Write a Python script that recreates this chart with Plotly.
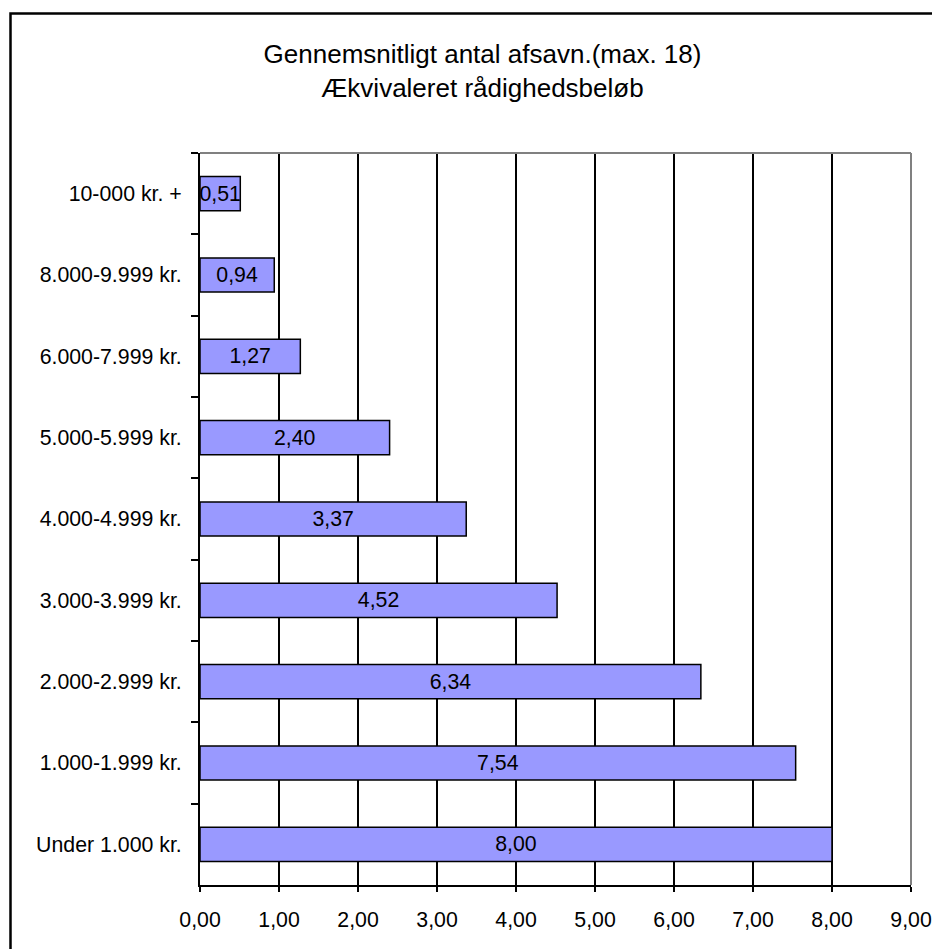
import plotly.graph_objects as go

categories = ["10-000 kr. +", "8.000-9.999 kr.", "6.000-7.999 kr.", "5.000-5.999 kr.",
              "4.000-4.999 kr.", "3.000-3.999 kr.", "2.000-2.999 kr.", "1.000-1.999 kr.",
              "Under 1.000 kr."]
values = [0.51, 0.94, 1.27, 2.40, 3.37, 4.52, 6.34, 7.54, 8.00]
x_ticks = [0, 1, 2, 3, 4, 5, 6, 7, 8, 9]

OFF = 8  # page body margin
W, H = 940 - OFF, 949 - OFF
ML, MT = 200 - OFF, 153 - OFF
PR, PB = 911 - OFF, 885 - OFF
MR, MB = W - PR, H - PB
pw, ph = PR - ML, PB - MT

def px_x(sx):
    return (sx - OFF - ML) / pw

def px_y(sy):
    return (PB - (sy - OFF)) / ph

FONT = "Liberation Sans, Arial, sans-serif"
FS = 21.3

fig = go.Figure()
fig.add_trace(go.Bar(
    y=categories, x=values, orientation="h",
    marker=dict(color="#9999FF", line=dict(color="black", width=1.5)),
    texttemplate="%{x:.2f}", textposition="inside", insidetextanchor="middle",
    constraintext="none", textangle=0,
    textfont=dict(family=FONT, size=FS, color="black"),
    hoverinfo="skip",
))

fig.update_layout(
    width=W, height=H,
    margin=dict(l=ML, r=MR, t=MT, b=MB, autoexpand=False),
    paper_bgcolor="white", plot_bgcolor="white",
    separators=",.",
    bargap=0.58,
    showlegend=False,
    font=dict(family=FONT, color="black"),
    title=dict(
        text="Gennemsnitligt antal afsavn.(max. 18)<br>Ækvivaleret rådighedsbeløb",
        x=(482.5 - OFF) / W, xanchor="center", xref="container",
        y=1 - 55 / H, yanchor="top", yref="container",
        font=dict(family=FONT, size=26, color="black"),
    ),
    xaxis=dict(
        range=[0, 9], tickvals=x_ticks, tickformat=".2f",
        showgrid=True, gridcolor="black", gridwidth=2,
        showline=True, linecolor="black", linewidth=2,
        ticks="outside", ticklen=5, tickwidth=2, tickcolor="black",
        tickfont=dict(family=FONT, size=FS, color="black"),
        ticklabelstandoff=9, automargin=False,
        zeroline=False, fixedrange=True,
    ),
    yaxis=dict(
        autorange="reversed", type="category",
        tickson="boundaries",
        showgrid=False,
        showline=True, linecolor="black", linewidth=2,
        ticks="outside", ticklen=7, tickwidth=2, tickcolor="black",
        tickfont=dict(family=FONT, size=FS, color="black"),
        ticklabelstandoff=12, automargin=False,
        zeroline=False, fixedrange=True,
    ),
    shapes=[
        dict(type="line", xref="paper", yref="paper", x0=0, x1=1, y0=1, y1=1,
             line=dict(color="#808080", width=2), layer="above"),
        dict(type="line", xref="paper", yref="paper", x0=1, x1=1, y0=0, y1=1,
             line=dict(color="#808080", width=2), layer="above"),
        dict(type="path", xref="paper", yref="paper",
             path=f"M {px_x(10.5)},{px_y(960)} L {px_x(10.5)},{px_y(13.5)} L {px_x(960)},{px_y(13.5)}",
             line=dict(color="black", width=2.5), layer="above"),
    ],
)

fig.write_html("out.html")
